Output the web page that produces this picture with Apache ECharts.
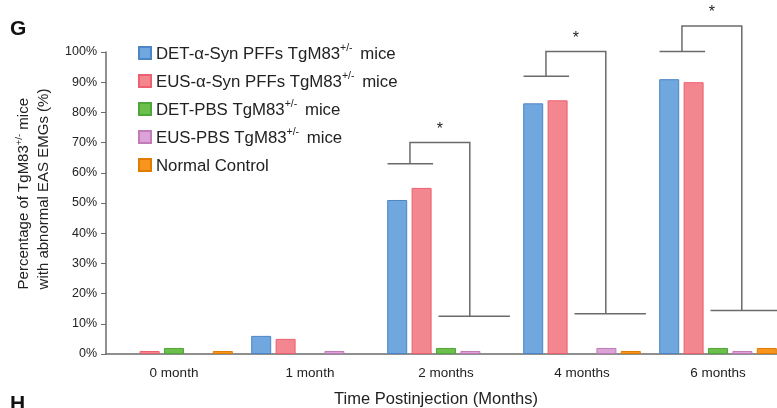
<!DOCTYPE html>
<html><head><meta charset="utf-8">
<script src="https://cdn.jsdelivr.net/npm/echarts@6/dist/echarts.min.js"></script>
<style>html,body{margin:0;padding:0;background:#fff;}#c{width:777px;height:408px;}</style>
</head><body><div id="c"></div>
<script>
var categories = ['0 month', '1 month', '2 months', '4 months', '6 months'];
var seriesNames = ['DET-α-Syn PFFs TgM83+/- mice', 'EUS-α-Syn PFFs TgM83+/- mice', 'DET-PBS TgM83+/- mice', 'EUS-PBS TgM83+/- mice', 'Normal Control'];
var detPFF = [0, 6, 51, 83, 91];
var eusPFF = [1, 5, 55, 84, 90];
var detPBS = [2, 0, 2, 0, 2];
var eusPBS = [0, 1, 1, 2, 1];
var normalCtrl = [1, 0, 0, 1, 2];
var yTicks = [0, 10, 20, 30, 40, 50, 60, 70, 80, 90, 100];
// significance brackets: category index, low bar level, top level, bottom level (%)
var sigCategory = [2, 3, 4];
var sigLow = [63, 92, 100.2];
var sigTop = [70, 100.2, 108.6];
var sigBottom = [12.5, 13.3, 14.4];

var fills = ['#6fa7de', '#f4868f', '#6dbf4c', '#dca3d6', '#f7951f'];
var borders = ['#4d86c4', '#ec6070', '#4fa63a', '#c17bb8', '#e07c00'];
var allData = [detPFF, eusPFF, detPBS, eusPBS, normalCtrl];
var FONT = 'Arial, Liberation Sans';

var chart = echarts.init(document.getElementById('c'));
var series = allData.map(function (d, i) {
  return {
    name: seriesNames[i], type: 'bar', barWidth: 20, barGap: '22%',
    data: d.map(function (v) { return v === 0 ? { value: 0, itemStyle: { borderWidth: 0 } } : v; }),
    itemStyle: { color: fills[i], borderColor: borders[i], borderWidth: 1 },
    emphasis: { disabled: true }, silent: true, z: 2
  };
});
var sigData = sigCategory.map(function (c, i) { return [c, sigLow[i], sigTop[i], sigBottom[i]]; });
series.push({
  type: 'custom', data: sigData, clip: false, silent: true, z: 5,
  renderItem: function (params, api) {
    var c = api.value(0);
    var bw = api.size([1, 0])[0];
    var cx = api.coord([c, 0])[0];
    var yLow = api.coord([c, api.value(1)])[1];
    var yTop = api.coord([c, api.value(2)])[1];
    var yBot = api.coord([c, api.value(3)])[1];
    var xL1 = cx - 0.43 * bw, xL2 = cx - 0.095 * bw, xV = cx - 0.265 * bw;
    var xR = cx + 0.175 * bw, xB1 = cx - 0.055 * bw, xB2 = cx + 0.47 * bw;
    var st = { stroke: '#6b6b6b', lineWidth: 1.5, fill: null };
    return {
      type: 'group', children: [
        { type: 'polyline', shape: { points: [[xL1, yLow], [xL2, yLow]] }, style: st },
        { type: 'polyline', shape: { points: [[xV, yLow], [xV, yTop], [xR, yTop], [xR, yBot]] }, style: st },
        { type: 'polyline', shape: { points: [[xB1, yBot], [xB2, yBot]] }, style: st },
        { type: 'text', style: { text: '*', x: (xV + xR) / 2, y: yTop - 13, fill: '#222', font: '16px Arial', textAlign: 'center', textVerticalAlign: 'middle' } }
      ]
    };
  }
});

function legendFmt(name) {
  var idx = name.indexOf('+/-');
  if (idx < 0) return '{n|' + name + '}{s| }';
  return '{n|' + name.slice(0, idx) + '}{s|+/-}{n|' + name.slice(idx + 3) + '}';
}

chart.setOption({
  animation: false,
  grid: { left: 106, top: 52, width: 680, height: 302, containLabel: false, outerBoundsMode: 'none' },
  legend: {
    orient: 'vertical', left: 133, top: 38, padding: 5, itemWidth: 12, itemHeight: 12, itemGap: 8,
    icon: 'rect', selectedMode: false, data: seriesNames,
    formatter: legendFmt,
    textStyle: {
      rich: {
        n: { fontFamily: FONT, fontSize: 16.8, color: '#222', lineHeight: 20, verticalAlign: 'bottom' },
        s: { fontFamily: FONT, fontSize: 10.5, color: '#222', lineHeight: 20, verticalAlign: 'top', padding: [0, 3, 0, 0] }
      }
    }
  },
  xAxis: {
    type: 'category', data: categories,
    axisLine: { lineStyle: { color: '#6b6b6b', width: 1.5 } },
    axisTick: { show: false },
    axisLabel: { color: '#222', fontSize: 13.5, fontFamily: FONT, margin: 12 },
    name: 'Time Postinjection (Months)', nameLocation: 'middle', nameGap: 37,
    nameTextStyle: { color: '#222', fontSize: 16.5, fontFamily: FONT, padding: [0, 20, 0, 0] }
  },
  yAxis: {
    type: 'value', min: 0, max: 100, interval: 10,
    splitLine: { show: false },
    axisLine: { show: true, lineStyle: { color: '#6b6b6b', width: 1.5 } },
    axisTick: { show: true, length: 5, lineStyle: { color: '#6b6b6b' } },
    axisLabel: { color: '#222', fontSize: 12.5, fontFamily: FONT, margin: 9, formatter: function (v) { return v + '%'; } },
    name: '{n|Percentage of TgM83}{s|+/-}{n| mice}\n{n|with abnormal EAS EMGs (%)}',
    nameLocation: 'middle', nameGap: 52, nameRotate: 90,
    nameTextStyle: {
      padding: [0, 0, 0, 28],
      rich: {
        n: { fontFamily: FONT, fontSize: 15, color: '#222', lineHeight: 20, align: 'left' },
        s: { fontFamily: FONT, fontSize: 9.5, color: '#222', lineHeight: 20, verticalAlign: 'top', align: 'left' }
      }
    }
  },
  graphic: [
    { type: 'text', left: 10, top: 19, style: { text: 'G', font: 'bold 21px Arial, Liberation Sans', fill: '#111' } },
    { type: 'text', left: 10, top: 394, style: { text: 'H', font: 'bold 21px Arial, Liberation Sans', fill: '#111' } }
  ],
  series: series
});
</script></body></html>
